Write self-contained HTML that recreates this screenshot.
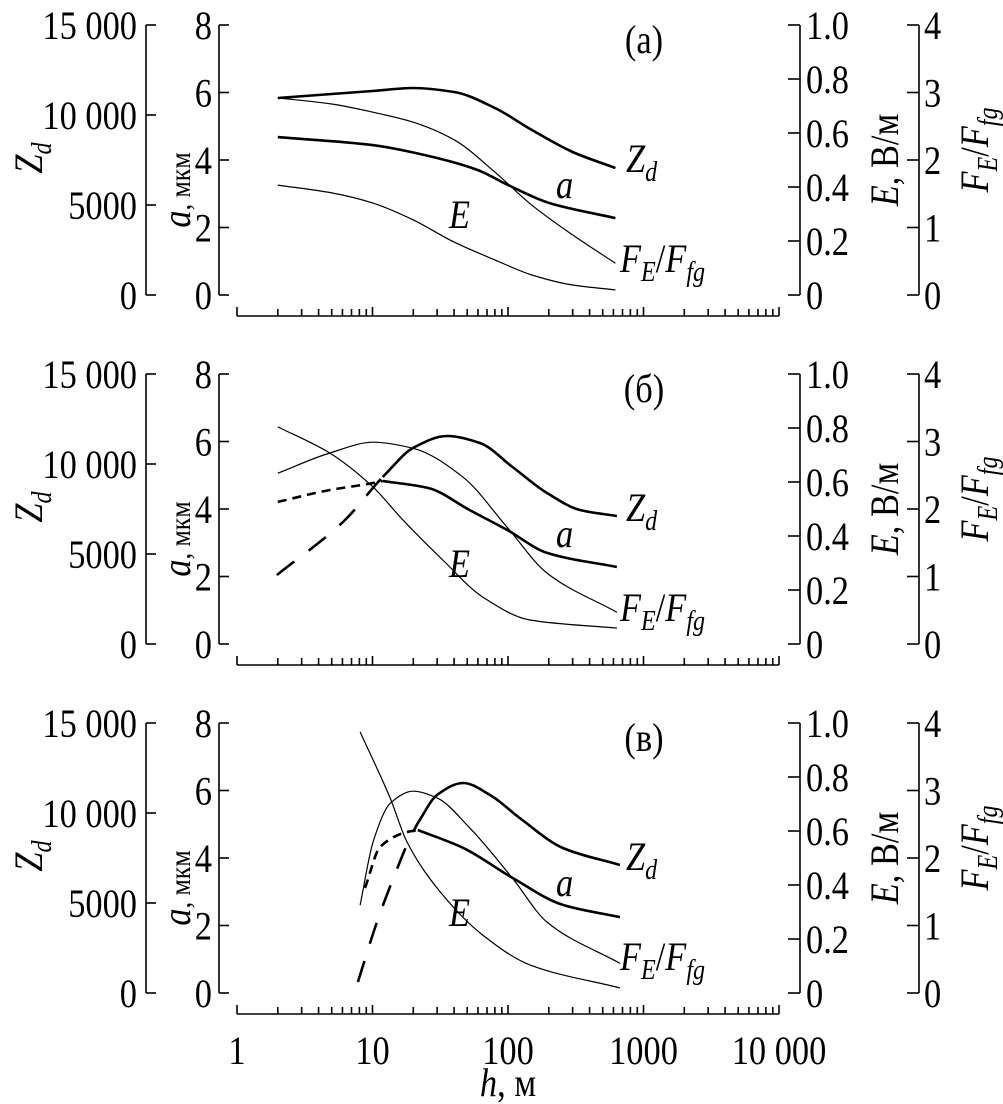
<!DOCTYPE html>
<html><head><meta charset="utf-8"><style>
html,body{margin:0;padding:0;background:#fff}
svg{display:block}
text{font-family:"Liberation Serif","DejaVu Serif",serif;fill:#000}
</style></head><body>
<svg id="chart" width="1003" height="1104" viewBox="0 0 1003 1104" xmlns="http://www.w3.org/2000/svg"></svg>
<script>
// ---- data ----
const panelLabels = ["(а)", "(б)", "(в)"];
const zTicks = [0, 5000, 10000, 15000];
const zTickLabels = ["0", "5000", "10 000", "15 000"];
const aTicks = [0, 2, 4, 6, 8];
const eTicks = [0, 0.2, 0.4, 0.6, 0.8, 1.0];
const eTickLabels = ["0", "0.2", "0.4", "0.6", "0.8", "1.0"];
const fTicks = [0, 1, 2, 3, 4];
const xTickValues = [1, 10, 100, 1000, 10000];
const xTickLabels = ["1", "10", "100", "1000", "10 000"];

// panel a
const aZ_h = [2,5,10,20,40,80,150,300,620];
const aZ_v = [10944,11167,11333,11500,11278,10389,9167,7944,7056];
const aF_h = [2,5,10,20,40,80,150,300,620];
const aF_v = [2.92,2.83,2.71,2.56,2.30,1.82,1.33,0.89,0.47];
const aA_h = [2,10,30,60,100,200,620];
const aA_v = [4.68,4.44,4.06,3.70,3.26,2.73,2.28];
const aE_h = [2,5,10,20,40,80,150,300,620];
const aE_v = [0.407,0.378,0.341,0.278,0.196,0.130,0.074,0.037,0.019];
// panel b
const bE_h = [2,4.85,10.1,16.8,33,65,145,636];
const bE_v = [0.804,0.707,0.581,0.459,0.311,0.174,0.089,0.059];
const bF_h = [2,4.85,10.1,19.9,46.7,98.5,194,636];
const bF_v = [2.53,2.83,2.99,2.90,2.47,1.73,1.05,0.47];
const bAd_h = [2,4.8,9.2,11.9];
const bAd_v = [4.21,4.56,4.74,4.83];
const bA_h = [11.9,26,52,98.5,194,636];
const bA_v = [4.83,4.62,3.97,3.38,2.70,2.28];
const bZd_h = [1.97,6.27,11,11.9];
const bZd_v = [3833,6889,9000,9278];
const bZ_h = [11.9,19.9,35.4,62,108,194,340,636];
const bZ_v = [9278,10889,11556,11167,9833,8389,7444,7111];
// panel c
const cE_h = [8.1,13.5,18,33,65,145,670];
const cE_v = [0.967,0.722,0.559,0.363,0.215,0.104,0.019];
const cF_h = [8.1,10.1,13.5,19.9,29.9,52.5,108,194,670];
const cF_v = [1.30,2.24,2.81,2.99,2.89,2.44,1.70,1.05,0.44];
const cAd_h = [8.8,11.4,18,21.6];
const cAd_v = [3.11,4.33,4.77,4.83];
const cA_h = [21.6,46.7,108,254,670];
const cA_v = [4.83,4.30,3.41,2.61,2.25];
const cZd_h = [7.8,10.8,15.9,18.9,21.6];
const cZd_v = [611,3944,7278,8611,9444];
const cZ_h = [21.6,29.9,46.7,73.7,122,254,670];
const cZ_v = [9444,11000,11667,11000,9722,8056,7111];

const panels = [
  {series:[["z",aZ_h,aZ_v,"solid"],["f",aF_h,aF_v,"thin"],["a",aA_h,aA_v,"solid"],["e",aE_h,aE_v,"thin"]]},
  {series:[["e",bE_h,bE_v,"thin"],["f",bF_h,bF_v,"thin"],["a",bAd_h,bAd_v,"dash"],["a",bA_h,bA_v,"solid"],["z",bZd_h,bZd_v,"ldash"],["z",bZ_h,bZ_v,"solid"]]},
  {series:[["e",cE_h,cE_v,"thin"],["f",cF_h,cF_v,"thin"],["a",cAd_h,cAd_v,"dash"],["a",cA_h,cA_v,"solid"],["z",cZd_h,cZd_v,"ldash"],["z",cZ_h,cZ_v,"solid"]]}
];

const NS = "http://www.w3.org/2000/svg";
const svg = document.getElementById("chart");
function mk(tag, attrs, parent){const e=document.createElementNS(NS,tag);for(const k in attrs)e.setAttribute(k,attrs[k]);(parent||svg).appendChild(e);return e;}
const X0=237, DEC=135.5;
function xs(h){return X0+Math.log10(h)*DEC;}
const maxes={z:15000,a:8,e:1,f:4};
// monotone cubic (Fritsch-Carlson)
function smooth(pts){
  const n=pts.length;
  let d="M"+pts[0][0].toFixed(1)+","+pts[0][1].toFixed(1);
  if(n<3){for(let i=1;i<n;i++)d+=" L"+pts[i][0].toFixed(1)+","+pts[i][1].toFixed(1);return d;}
  const dx=[],s=[];
  for(let i=0;i<n-1;i++){dx.push(pts[i+1][0]-pts[i][0]);s.push((pts[i+1][1]-pts[i][1])/dx[i]);}
  const m=[s[0]];
  for(let i=1;i<n-1;i++){
    if(s[i-1]*s[i]<=0)m.push(0);
    else{const w1=2*dx[i]+dx[i-1],w2=dx[i]+2*dx[i-1];m.push((w1+w2)/(w1/s[i-1]+w2/s[i]));}
  }
  m.push(s[n-2]);
  for(let i=0;i<n-1;i++){
    const h=dx[i]/3,p1=pts[i],p2=pts[i+1];
    d+=" C"+(p1[0]+h).toFixed(1)+","+(p1[1]+m[i]*h).toFixed(1)+" "+(p2[0]-h).toFixed(1)+","+(p2[1]-m[i+1]*h).toFixed(1)+" "+p2[0].toFixed(1)+","+p2[1].toFixed(1);
  }
  return d;
}
function txt(g,x,y,s,anchor,rot,fs){
  const t=mk("text",{x:0,y:0,"font-size":fs||40,"text-anchor":anchor||"start",
    transform:`translate(${x},${y})${rot?" rotate(-90)":""} scale(0.86,1)`},g);
  t.innerHTML=s;return t;
}
const SUB='font-style="italic" font-size="28" dy="9"';

panels.forEach((p,pi)=>{
  const off=pi*349, top=25+off, bot=295+off, ax=316+off;
  const ys=(v,k)=>bot-v/maxes[k]*270;
  const g=mk("g",{});
  
  
  const ln={stroke:"#000","stroke-width":1.6,fill:"none"};
  const za=mk("path",Object.assign({d:`M146,${top}V${bot}`},ln),g);
  
  
  zTicks.forEach((v,i)=>{const y=ys(v,"z");mk("path",Object.assign({d:`M146,${y}H156`},ln),g);const t=txt(g,137,y+14,zTickLabels[i],"end");});
  const aa=mk("path",Object.assign({d:`M219,${top}V${bot}`},ln),g);
  
  
  aTicks.forEach(v=>{const y=ys(v,"a");mk("path",Object.assign({d:`M219,${y}H229`},ln),g);const t=txt(g,212,y+14,String(v),"end");});
  const ea=mk("path",Object.assign({d:`M800,${top}V${bot}`},ln),g);
  
  
  eTicks.forEach((v,i)=>{const y=ys(v,"e");mk("path",Object.assign({d:`M788,${y}H800`},ln),g);const t=txt(g,806,y+14,eTickLabels[i]);});
  const fa=mk("path",Object.assign({d:`M919,${top}V${bot}`},ln),g);
  
  
  fTicks.forEach(v=>{const y=ys(v,"f");mk("path",Object.assign({d:`M907,${y}H919`},ln),g);const t=txt(g,924,y+14,String(v));});
  const xa=mk("path",Object.assign({d:`M${X0},${ax}H779`},ln),g);
  
  
  for(let d=0;d<4;d++){for(let m=1;m<=9;m++){const x=xs(m*Math.pow(10,d));mk("path",Object.assign({d:`M${x},${ax}V${ax-(m===1?9:7)}`},ln),g);}}
  mk("path",Object.assign({d:`M${xs(10000)},${ax}V${ax-9}`},ln),g);
  if(pi===2){xTickValues.forEach((v,i)=>{const t=txt(g,xs(v),ax+50,xTickLabels[i],"middle");});}
  const zt=txt(g,42,off+158,`<tspan font-style="italic">Z</tspan><tspan ${SUB}>d</tspan>`,"middle",true);
  
  const at=txt(g,190,off+190,'<tspan font-style="italic" font-size="40">a</tspan>, мкм',"middle",true,30);
  
  const et=txt(g,898,off+160,'<tspan font-style="italic">E</tspan>, В/м',"middle",true);
  
  const ft=txt(g,988,off+150,`<tspan font-style="italic">F</tspan><tspan ${SUB}>E</tspan><tspan dy="-9">/</tspan><tspan font-style="italic">F</tspan><tspan ${SUB}>fg</tspan>`,"middle",true);
  
  const pl=txt(g,644,off+53,panelLabels[pi],"middle");
  
  p.series.forEach(s=>{
    const [k,hs,vs,st]=s;
    const pts=hs.map((h,i)=>[xs(h),ys(vs[i],k)]);
    const a={d:smooth(pts),fill:"none",stroke:"#000","stroke-linecap":"butt"};
    if(st==="thin")a["stroke-width"]=1.2;else a["stroke-width"]=2.6;
    if(st==="dash")a["stroke-dasharray"]="9 6";
    if(st==="ldash")a["stroke-dasharray"]="22 18";
    const e=mk("path",a,g);
    
    
  });
  const l1=txt(g,626,off+172,`<tspan font-style="italic">Z</tspan><tspan ${SUB}>d</tspan>`);
  
  const l2=txt(g,556,off+198,'<tspan font-style="italic">a</tspan>');
  
  const l3=txt(g,620,off+272,`<tspan font-style="italic">F</tspan><tspan ${SUB}>E</tspan><tspan dy="-9">/</tspan><tspan font-style="italic">F</tspan><tspan ${SUB}>fg</tspan>`);
  
  const l4=txt(g,449,off+228,'<tspan font-style="italic">E</tspan>');
  
});
const xt=txt(svg,508,1096,'<tspan font-style="italic">h</tspan>, м',"middle");


</script>
</body></html>
